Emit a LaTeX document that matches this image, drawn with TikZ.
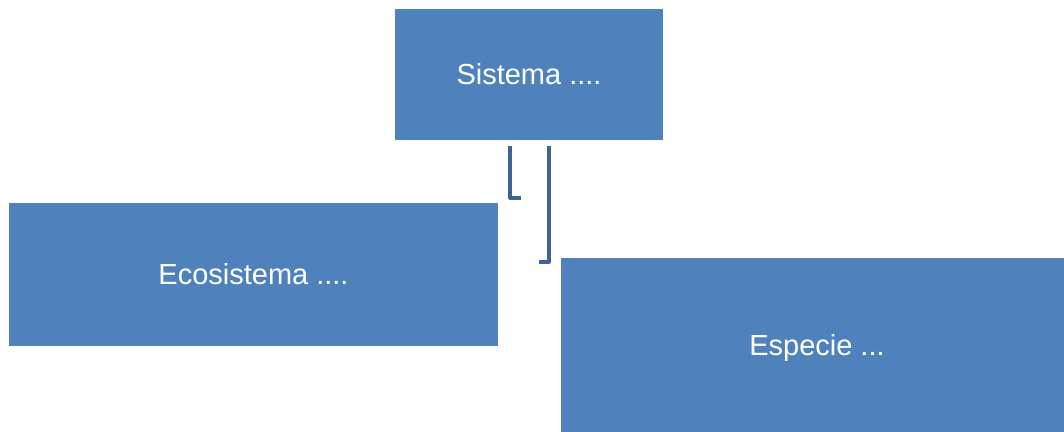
\documentclass[tikz,border=0pt]{standalone}
\usepackage{fontspec}
\setmainfont{Liberation Sans}
\usepackage{tikz}
\usetikzlibrary{positioning,calc}

\definecolor{boxblue}{HTML}{4F81BD}
\definecolor{linkblue}{HTML}{3E6496}

\begin{document}
\begin{tikzpicture}[x=0.02cm,y=-0.02cm,
	box/.style={rectangle,fill=boxblue,draw=none,inner sep=0pt,text=white,font=\fontsize{16.5}{19.5}\selectfont},
	link/.style={linkblue,line width=2.3pt,line join=round}]
\clip (0,0) rectangle (1064,432);

\node [box,minimum width=5.36cm,minimum height=2.62cm] (sistema) at (529,74.5) {Sistema ....};
\node [box,minimum width=9.78cm,minimum height=2.86cm] (ecosistema) at (253.5,274.5) {Ecosistema ....};
\node [box,minimum width=10.24cm,minimum height=3.6cm] (especie) at (817,348) {Especie ...};

% loose connector ends
\coordinate (l1) at ($(sistema.south)+(-19,6)$);
\coordinate (l1end) at ($(ecosistema.north east)+(23,-5)$);
\coordinate (l2) at ($(sistema.south)+(20,6)$);
\coordinate (l2end) at ($(especie.north west)+(-22,4)$);

\draw[link] (l1) |- (l1end);
\draw[link] (l2) |- (l2end);
\end{tikzpicture}
\end{document}
